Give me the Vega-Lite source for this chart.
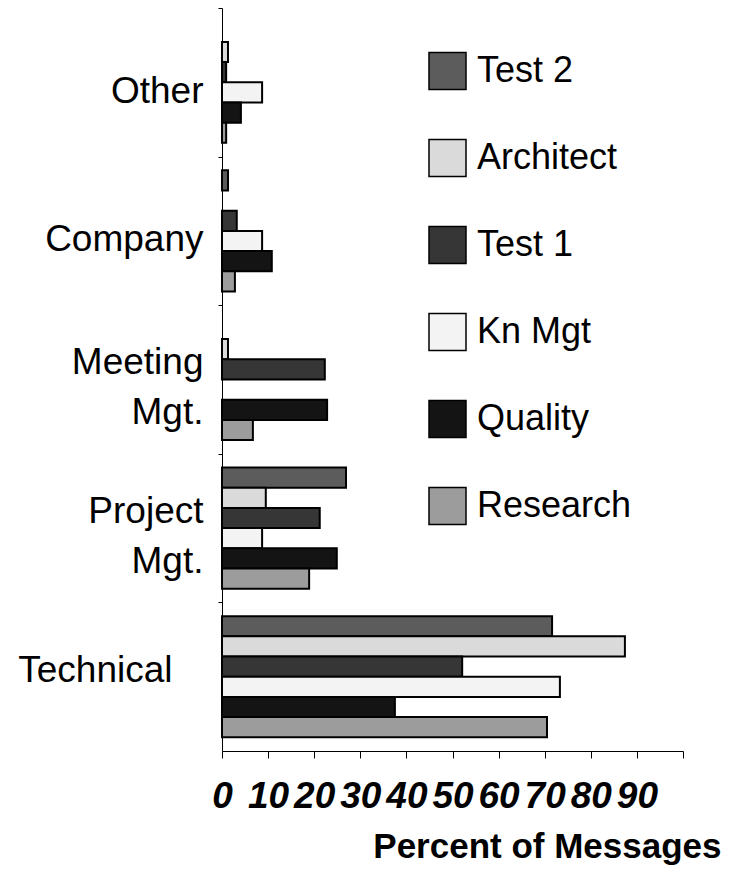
{
  "$schema": "https://vega.github.io/schema/vega-lite/v6.json",
  "width": 461,
  "height": 743,
  "autosize": {"type": "none"},
  "padding": {"left": 222, "top": 8, "right": 60, "bottom": 123},
  "background": "white",
  "config": {"view": {"stroke": null}, "font": "Liberation Sans"},
  "data": {
    "values": [
      {"category": "Technical", "series": "Test 2", "percent": 71.6},
      {"category": "Technical", "series": "Architect", "percent": 87.4},
      {"category": "Technical", "series": "Test 1", "percent": 52.1},
      {"category": "Technical", "series": "Kn Mgt", "percent": 73.3},
      {"category": "Technical", "series": "Quality", "percent": 37.5},
      {"category": "Technical", "series": "Research", "percent": 70.5},
      {"category": "Project Mgt.", "series": "Test 2", "percent": 26.9},
      {"category": "Project Mgt.", "series": "Architect", "percent": 9.5},
      {"category": "Project Mgt.", "series": "Test 1", "percent": 21.2},
      {"category": "Project Mgt.", "series": "Kn Mgt", "percent": 8.7},
      {"category": "Project Mgt.", "series": "Quality", "percent": 24.9},
      {"category": "Project Mgt.", "series": "Research", "percent": 18.9},
      {"category": "Meeting Mgt.", "series": "Architect", "percent": 1.3},
      {"category": "Meeting Mgt.", "series": "Test 1", "percent": 22.3},
      {"category": "Meeting Mgt.", "series": "Quality", "percent": 22.8},
      {"category": "Meeting Mgt.", "series": "Research", "percent": 6.7},
      {"category": "Company", "series": "Test 2", "percent": 1.3},
      {"category": "Company", "series": "Test 1", "percent": 3.2},
      {"category": "Company", "series": "Kn Mgt", "percent": 8.7},
      {"category": "Company", "series": "Quality", "percent": 10.8},
      {"category": "Company", "series": "Research", "percent": 2.8},
      {"category": "Other", "series": "Architect", "percent": 1.3},
      {"category": "Other", "series": "Test 1", "percent": 0.9},
      {"category": "Other", "series": "Kn Mgt", "percent": 8.7},
      {"category": "Other", "series": "Quality", "percent": 4.1},
      {"category": "Other", "series": "Research", "percent": 0.9}
    ]
  },
  "mark": {"type": "bar", "stroke": "black", "strokeWidth": 2},
  "encoding": {
    "y": {
      "field": "category",
      "type": "nominal",
      "sort": ["Other", "Company", "Meeting Mgt.", "Project Mgt.", "Technical"],
      "scale": {"paddingInner": 0, "paddingOuter": 0},
      "axis": {
        "title": null,
        "domainColor": "black",
        "tickColor": "black",
        "tickSize": 4,
        "tickOffset": -74.3,
        "labelOffset": {
          "condition": [
            {"test": "datum.value === 'Technical'", "value": 68.3},
            {"test": "indexof(datum.value, ' ') > 0", "value": 57.5}
          ],
          "value": 83.3
        },
        "labelPadding": {"condition": {"test": "datum.value === 'Technical'", "value": 46}, "value": 15},
        "labelExpr": "split(datum.label, ' ')",
        "labelFontSize": 37,
        "labelLineHeight": 50,
        "labelColor": "black",
        "labelBaseline": "middle",
        "labelLimit": 300
      }
    },
    "yOffset": {
      "field": "series",
      "type": "nominal",
      "scale": {
        "domain": ["Test 2", "Architect", "Test 1", "Kn Mgt", "Quality", "Research"],
        "paddingInner": 0,
        "paddingOuter": 0.68
      }
    },
    "x": {
      "field": "percent",
      "type": "quantitative",
      "scale": {"domain": [0, 100], "nice": false},
      "axis": {
        "values": [0, 10, 20, 30, 40, 50, 60, 70, 80, 90, 100],
        "labelExpr": "datum.value == 100 ? '' : datum.label",
        "grid": false,
        "domainColor": "black",
        "tickColor": "black",
        "tickSize": 7,
        "labelFontSize": 37,
        "labelFontWeight": "bold",
        "labelFontStyle": "italic",
        "labelColor": "black",
        "labelBaseline": "alphabetic",
        "labelPadding": 49,
        "labelOverlap": false,
        "labelFlush": false,
        "title": "Percent of Messages",
        "titleFontSize": 35,
        "titleFontWeight": "bold",
        "titleColor": "black",
        "titleX": 499,
        "titleY": 106,
        "titleAlign": "right",
        "titleBaseline": "alphabetic"
      }
    },
    "fill": {
      "field": "series",
      "type": "nominal",
      "scale": {
        "domain": ["Test 2", "Architect", "Test 1", "Kn Mgt", "Quality", "Research"],
        "range": ["#5c5c5c", "#dadada", "#363636", "#f3f3f3", "#141414", "#9c9c9c"]
      },
      "legend": {
        "orient": "none",
        "legendX": 206,
        "legendY": 43.5,
        "title": null,
        "symbolType": "square",
        "symbolSize": 1369,
        "symbolStrokeColor": "black",
        "symbolStrokeWidth": 1.5,
        "symbolOpacity": 1,
        "labelFontSize": 36,
        "labelOffset": 10,
        "labelColor": "black",
        "labelLimit": 300,
        "rowPadding": 44
      }
    }
  }
}
